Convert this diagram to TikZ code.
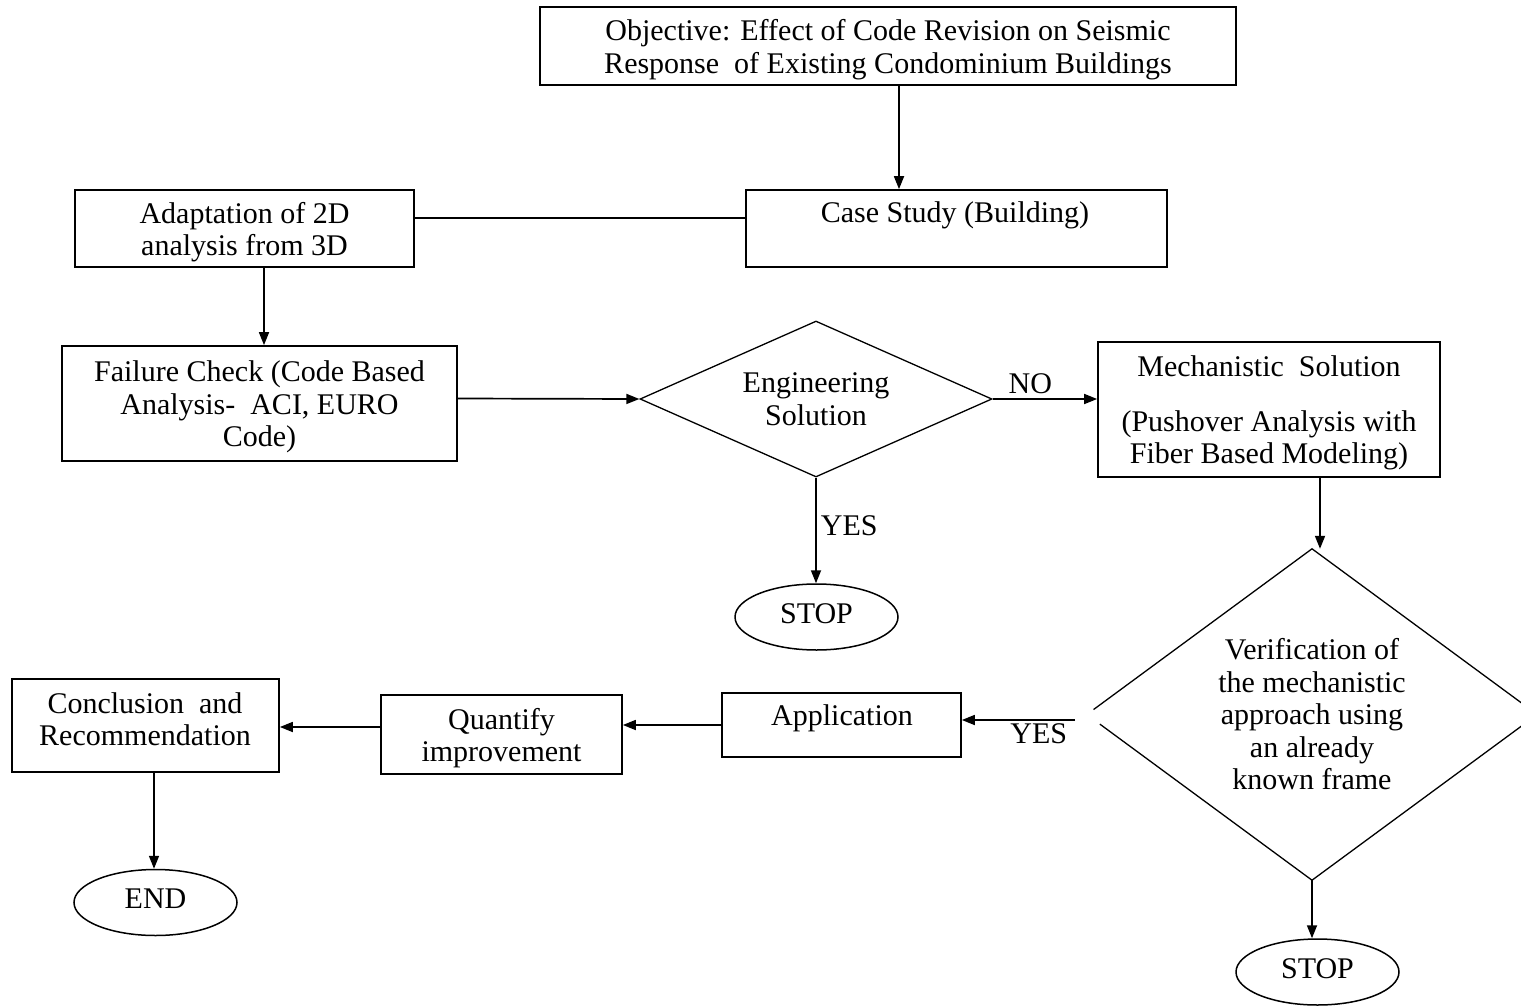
\documentclass[tikz,border=0pt]{standalone}
\usepackage{fontspec}
\setmainfont{Liberation Serif}
\usetikzlibrary{shapes.geometric,arrows.meta,calc}
\newcommand\mystrut{\rule{0pt}{28pt}}
\begin{document}
\begin{tikzpicture}[x=1pt,y=-1pt,
  every node/.style={font=\fontsize{30}{32.5}\selectfont, text=black},
  box/.style={draw, line width=1.7pt, rectangle, inner sep=0pt, align=center},
  dia/.style={diamond, inner sep=0pt, align=center},
  term/.style={draw, line width=1.5pt, ellipse, inner sep=0pt, minimum width=163pt, minimum height=66pt, text height=20pt, text depth=8pt},
  txt/.style={align=center, inner sep=0pt},
  arr/.style={line width=1.7pt, -{Triangle[length=13pt,width=10pt]}},
  ln/.style={line width=1.7pt},
  lbl/.style={inner sep=0pt}]
\useasboundingbox (0,0) rectangle (1521,1006);

\node[box, minimum width=696pt, minimum height=78pt] (obj) at (888,46) {\mystrut Objective: Effect of Code Revision on Seismic\\Response\ \ of Existing Condominium Buildings};
\node[box, minimum width=421pt, minimum height=77pt] (case) at (956.5,228.5) {};
\node[txt] (caseT) at (955,215) {Case Study (Building)};
\node[box, minimum width=339pt, minimum height=77pt] (adapt) at (244.5,228.5) {\mystrut Adaptation of 2D\\analysis from 3D};
\node[box, minimum width=395pt, minimum height=115pt] (fail) at (259.5,403.5) {\mystrut Failure Check (Code Based\\Analysis-\ \ ACI, EURO\\Code)};
\node[dia, aspect=2.25, minimum width=352pt, minimum height=156pt, draw, line width=1.3pt] (eng) at (816,399) {Engineering\\Solution};
\node[box, minimum width=342pt, minimum height=135pt] (mech) at (1269,409.5) {\mystrut Mechanistic\ \ Solution\\[22pt](Pushover Analysis with\\Fiber Based Modeling)};
\node[term] (stop1) at (816.5,617) {STOP};
\node[dia, aspect=1.4, minimum width=450pt, minimum height=331pt] (ver) at (1312,714.5) {Verification of\\the mechanistic\\approach using\\an already\\known frame};
\draw[line width=1.3pt] ($(ver.west)!0.03!(ver.north)$) -- (ver.north) -- (ver.east) -- (ver.south) -- ($(ver.west)!0.058!(ver.south)$);
\node[term] (stop2) at (1317.5,972) {STOP};
\node[box, minimum width=239pt, minimum height=64pt] (app) at (841.5,725) {};
\node[txt] (appT) at (842,718) {Application};
\node[box, minimum width=241pt, minimum height=79pt] (quant) at (501.5,734.5) {\mystrut Quantify\\improvement};
\node[box, minimum width=267pt, minimum height=93pt] (concl) at (145.5,725.5) {};
\node[txt] (conclT) at (145,719) {Conclusion\ \ and\\Recommendation};
\node[term] (end) at (155.5,902.5) {END};

\coordinate (a1) at ([xshift=11pt]obj.south);
\draw[arr] (a1) -- (a1 |- case.north);
\coordinate (a2) at ([yshift=10.5pt]adapt.east);
\draw[ln] (a2) -- (a2 -| case.west);
\coordinate (a3) at ([xshift=19.5pt]adapt.south);
\draw[arr] (a3) -- (a3 |- fail.north);
\draw[arr] ([yshift=5pt]fail.east) -- (eng.west);
\draw[arr] (eng.east) -- (eng.east -| mech.west) node[lbl, pos=0.36, above=4pt] (no) {NO};
\draw[arr] (eng.south) -- (eng.south |- stop1.north) node[lbl, midway, right=4pt, yshift=5pt] (yes1) {YES};
\coordinate (a4) at ([xshift=51pt]mech.south);
\draw[arr] (a4) -- (a4 |- ver.north);
\draw[arr] (ver.south) -- (ver.south |- stop2.north);
\coordinate (a5) at (1075,720);
\draw[arr] (a5) -- (a5 -| app.east) node[lbl, pos=0.32, below=3pt] (yes2) {YES};
\draw[arr] (app.west) -- (app.west -| quant.east);
\coordinate (a6) at ([yshift=7.5pt]quant.west);
\draw[arr] (a6) -- (a6 -| concl.east);
\coordinate (a7) at ([xshift=8.5pt]concl.south);
\draw[arr] (a7) -- (a7 |- end.north);
\end{tikzpicture}
\end{document}
